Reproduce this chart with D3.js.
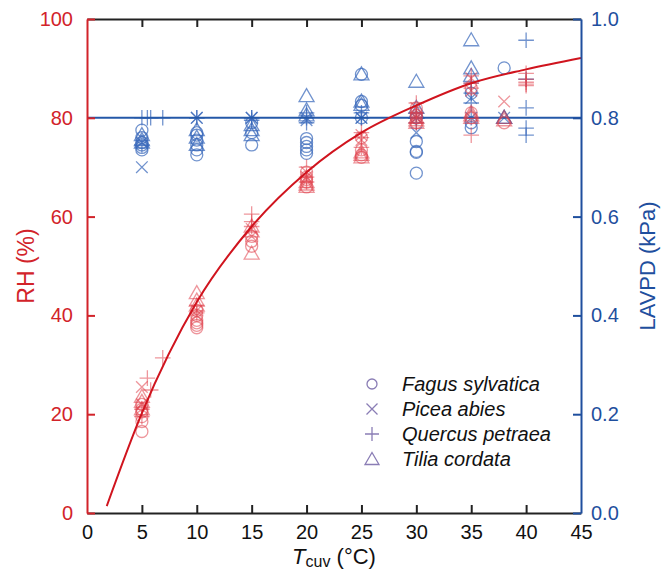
<!DOCTYPE html>
<html><head><meta charset="utf-8">
<script src="https://cdn.jsdelivr.net/npm/d3@7"></script>
<style>body{margin:0;background:#fff}svg{display:block}text{font-family:"Liberation Sans",Arial,sans-serif}</style>
</head><body>
<svg id="c" width="662" height="572"></svg>
<script>
// ---- data ----
const xTicks = [0,5,10,15,20,25,30,35,40,45];
const rhTicks = [0,20,40,60,80,100];
const vpdTicks = [0.0,0.2,0.4,0.6,0.8,1.0];
const vpdSetpoint = 0.8;
// fitted RH curve
const curveT  = [1.8, 5, 10, 15, 20, 25, 30, 35, 40, 45];
const curveRH = [1.4, 20.2, 42.7, 58, 69, 77, 82.5, 87, 89.8, 92.1];

const species = ["Fagus sylvatica","Picea abies","Quercus petraea","Tilia cordata"];
const fagusT   = [5,5,5,5,5,5, 10,10,10,10,10,10, 15,15,15, 20,20,20,20,20, 25,25,25,25, 30,30,30,30,30, 35,35,35, 38];
const fagusRH  = [16.5,18.5,19.5,20.5,21,22, 37.5,38,38.5,39,40,41, 54,55,56, 66,67,67.5,68,69, 72,72.5,73.5,76, 79,80,80.5,81,82, 80,81,86, 79];
const fagusVPD = [0.735,0.74,0.745,0.75,0.76,0.775, 0.725,0.735,0.745,0.755,0.765,0.77, 0.745,0.77,0.79, 0.728,0.735,0.742,0.75,0.758, 0.825,0.833,0.888,0.8, 0.688,0.73,0.732,0.752,0.80, 0.78,0.79,0.85, 0.901];

const piceaT   = [5,5, 10,10, 15,15, 20,20, 25,25, 30,30, 35,35, 38];
const piceaRH  = [25.5,22, 41,40, 57.5,56, 69,68, 76.5,75.5, 82,80, 88,85.5, 83.3];
const piceaVPD = [0.70,0.75, 0.80,0.80, 0.80,0.80, 0.80,0.795, 0.80,0.80, 0.77,0.80, 0.80,0.84, 0.80];

const quercusT   = [5,5,5.5,5.8,6.9, 10,10, 15,15,15, 20,20,20, 25,25,25, 30,30,30, 35,35,35,35, 40,40,40,40,40];
const quercusRH  = [21,19.5,27.3,24.9,31.4, 40.5,42, 60.5,59,58, 70,68,67, 76,74,77, 81,83,79, 76.5,88.5,86,87, 89,87.8,86.8,86.5,87.2];
const quercusVPD = [0.80,0.745,0.80,0.80,0.80, 0.80,0.80, 0.80,0.80,0.795, 0.80,0.79,0.81, 0.80,0.80,0.81, 0.80,0.79,0.81, 0.80,0.83,0.87,0.85, 0.957,0.82,0.779,0.765,0.878];

const tiliaT   = [5,5,5, 10,10,10, 15,15,15, 20,20,20, 25,25,25, 30,30,30, 35,35,35, 38,38];
const tiliaRH  = [21,22.5,23.5, 42,43,44.5, 57,52.5,58, 66,67,66.5, 72,72.5,73, 79,80,79.5, 80,81,80.5, 80,79.5];
const tiliaVPD = [0.765,0.755,0.75, 0.775,0.76,0.745, 0.785,0.775,0.765, 0.844,0.815,0.805, 0.888,0.833,0.826, 0.873,0.82,0.81, 0.957,0.90,0.885, 0.80,0.80];

// ---- setup ----
const RED = "#d2232a", BLUE = "#1f4f9e";
const RED_M = "#e0404a", BLUE_M = "#3a6abb", LEG = "#8a7db5";
const svg = d3.select("#c");
const m = {l:87, r:81, t:19, b:59};
const W = 662 - m.l - m.r, H = 572 - m.t - m.b;
const x = d3.scaleLinear().domain([0,45]).range([m.l, m.l+W]);
const yRH = d3.scaleLinear().domain([0,100]).range([m.t+H, m.t]);
const yV = d3.scaleLinear().domain([0,1]).range([m.t+H, m.t]);

const shapes = {
  circle: "M6,0A6,6 0 1,1 -6,0A6,6 0 1,1 6,0Z",
  x: "M-5.8,-5.8L5.8,5.8M-5.8,5.8L5.8,-5.8",
  plus: "M-7.8,0H7.8M0,-7.8V7.8",
  tri: "M0,-7.5L7.5,5.5L-7.5,5.5Z"
};
const legShapes = {
  circle: "M5,0A5,5 0 1,1 -5,0A5,5 0 1,1 5,0Z",
  x: "M-5.5,-5.5L5.5,5.5M-5.5,5.5L5.5,-5.5",
  plus: "M-7,0H7M0,-7V7",
  tri: "M0,-6.5L7,5.5L-7,5.5Z"
};
const sets = [
  {shape:"circle", T:fagusT, rh:fagusRH, v:fagusVPD},
  {shape:"x", T:piceaT, rh:piceaRH, v:piceaVPD},
  {shape:"plus", T:quercusT, rh:quercusRH, v:quercusVPD},
  {shape:"tri", T:tiliaT, rh:tiliaRH, v:tiliaVPD}
];

// blue markers (LAVPD)
const gB = svg.append("g");
sets.forEach(s => {
  gB.selectAll(null).data(s.T.map((t,i)=>({t, v:s.v[i]}))).join("path")
    .attr("d", shapes[s.shape])
    .attr("transform", d=>`translate(${x(d.t)},${yV(d.v)})`)
    .attr("fill","none").attr("stroke",BLUE_M).attr("stroke-width",1.3).attr("stroke-opacity",0.72);
});
// setpoint line
svg.append("line").attr("x1",x(0)).attr("x2",x(45))
  .attr("y1",yV(vpdSetpoint)).attr("y2",yV(vpdSetpoint))
  .attr("stroke","#2458a8").attr("stroke-width",2);
// red markers (RH)
const gR = svg.append("g");
sets.forEach(s => {
  gR.selectAll(null).data(s.T.map((t,i)=>({t, rh:s.rh[i]}))).join("path")
    .attr("d", shapes[s.shape])
    .attr("transform", d=>`translate(${x(d.t)},${yRH(d.rh)})`)
    .attr("fill","none").attr("stroke",RED_M).attr("stroke-width",1.3).attr("stroke-opacity",0.55);
});
// curve
svg.append("path").datum(curveT.map((t,i)=>[t,curveRH[i]]))
  .attr("d", d3.line().x(d=>x(d[0])).y(d=>yRH(d[1])).curve(d3.curveMonotoneX))
  .attr("fill","none").attr("stroke","#d0141e").attr("stroke-width",2);

// ---- axes ----
const fs = 20;
// bottom
const ax = svg.append("g").attr("transform",`translate(0,${m.t+H})`)
  .call(d3.axisBottom(x).tickValues(xTicks).tickSize(-8).tickPadding(12).tickSizeOuter(0));
ax.select(".domain").attr("stroke","#222").attr("stroke-width",2);
ax.selectAll(".tick line").attr("stroke","#222").attr("stroke-width",2);
ax.selectAll(".tick text").attr("font-size",fs).attr("fill","#111").attr("font-family","Liberation Sans, Arial, sans-serif");
ax.selectAll(".tick").filter(d=>d===0||d===45).select("line").remove();
// top
const at = svg.append("g").attr("transform",`translate(0,${m.t})`)
  .call(d3.axisTop(x).tickValues(xTicks.filter(d=>d>0&&d<45)).tickSize(-8).tickFormat("").tickSizeOuter(0));
at.select(".domain").attr("stroke","#222").attr("stroke-width",2);
at.selectAll(".tick line").attr("stroke","#222").attr("stroke-width",2);
// left
const al = svg.append("g").attr("transform",`translate(${m.l},0)`)
  .call(d3.axisLeft(yRH).tickValues(rhTicks).tickSize(-8).tickPadding(14).tickSizeOuter(0));
al.select(".domain").attr("stroke",RED).attr("stroke-width",2);
al.selectAll(".tick line").attr("stroke",RED).attr("stroke-width",2);
al.selectAll(".tick text").attr("font-size",fs).attr("fill",RED).attr("font-family","Liberation Sans, Arial, sans-serif");
// right
const ar = svg.append("g").attr("transform",`translate(${m.l+W},0)`)
  .call(d3.axisRight(yV).tickValues(vpdTicks).tickSize(-8).tickPadding(10).tickFormat(d3.format(".1f")).tickSizeOuter(0));
ar.select(".domain").attr("stroke",BLUE).attr("stroke-width",2);
ar.selectAll(".tick line").attr("stroke",BLUE).attr("stroke-width",2);
ar.selectAll(".tick text").attr("font-size",fs).attr("fill",BLUE).attr("font-family","Liberation Sans, Arial, sans-serif");

// titles
svg.append("text").attr("transform",`translate(34,${m.t+H/2}) rotate(-90)`)
  .attr("text-anchor","middle").attr("font-size",23).attr("fill",RED).text("RH (%)");
svg.append("text").attr("transform",`translate(655,${m.t+H/2}) rotate(-90)`)
  .attr("text-anchor","middle").attr("font-size",22).attr("fill",BLUE).text("LAVPD (kPa)");
const xt = svg.append("text").attr("x",m.l+W/2).attr("y",564).attr("text-anchor","middle").attr("font-size",22).attr("fill","#111");
xt.append("tspan").attr("font-style","italic").text("T");
xt.append("tspan").attr("font-size",16).attr("dy",3).text("cuv");
xt.append("tspan").attr("dy",-3).text(" (°C)");

// legend
const lg = svg.append("g").attr("transform","translate(372,384)");
sets.forEach((s,i)=>{
  const r = lg.append("g").attr("transform",`translate(0,${i*25})`);
  r.append("path").attr("d",legShapes[s.shape]).attr("fill","none").attr("stroke",LEG).attr("stroke-width",1.3);
  r.append("text").attr("x",30).attr("y",7).attr("font-size",20).attr("font-style","italic").attr("fill","#111").text(species[i]);
});
</script>
</body></html>
